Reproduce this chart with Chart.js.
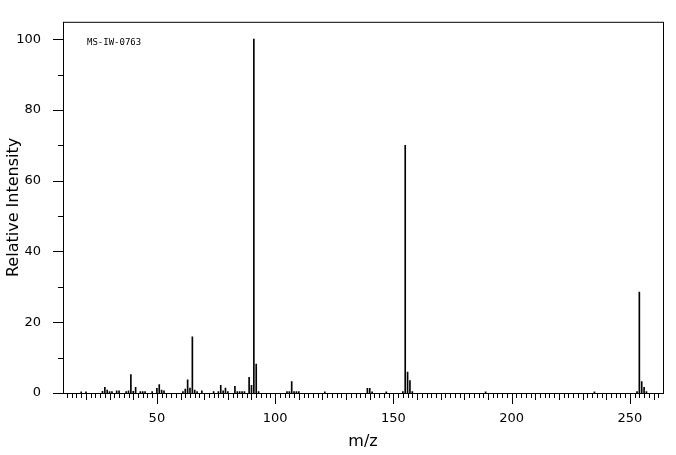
<!DOCTYPE html>
<html>
<head>
<script src="https://cdn.jsdelivr.net/npm/chart.js@4"></script>
<style>body{margin:0;background:#fff}</style>
</head>
<body>
<canvas id="c" width="676" height="455" style="width:676px;height:455px"></canvas>
<script>
// peaks
const mz = [18, 20, 27, 28, 29, 30, 31, 33, 34, 37, 38, 39, 40, 41, 43, 44, 45, 48, 50, 51, 52, 53,
  61, 62, 63, 64, 65, 66, 67, 69, 74, 76, 77, 78, 79, 80, 83, 84, 85, 86, 87, 89, 90, 91, 92, 93,
  105, 106, 107, 108, 109, 110, 121, 139, 140, 141, 147, 154, 155, 156, 157, 158, 189, 235, 253, 254, 255, 256, 257];
const intensity = [0.3, 0.3, 0.5, 1.6, 0.8, 0.4, 0.4, 0.6, 0.6, 0.4, 0.6, 5.2, 0.5, 1.6, 0.4, 0.4, 0.4, 0.4, 1.3, 2.4, 0.8, 0.6,
  0.4, 1.1, 3.7, 1.4, 15.9, 0.8, 0.4, 0.6, 0.4, 0.4, 2.2, 0.6, 1.4, 0.4, 1.9, 0.4, 0.4, 0.4, 0.4, 4.4, 2.2, 100, 8.2, 0.4,
  0.4, 0.4, 3.2, 0.4, 0.4, 0.4, 0.3, 1.3, 1.3, 0.3, 0.3, 0.4, 70, 5.9, 3.5, 0.4, 0.3, 0.3, 0.4, 28.5, 3.2, 1.6, 0.4];
const xTicks = [50, 100, 150, 200, 250];
const yTicks = [0, 20, 40, 60, 80, 100];
const sampleId = "MS-IW-0763";

const font = "'DejaVu Sans', sans-serif";

const frame = {
  id: "frame",
  afterDraw(chart) {
    const ctx = chart.ctx, a = chart.chartArea;
    const x = chart.scales.x, y = chart.scales.y;
    ctx.save();
    ctx.strokeStyle = "#000";
    ctx.lineWidth = 1;
    ctx.strokeRect(a.left + 0.5, a.top + 0.5, a.right - a.left, a.bottom - a.top);
    ctx.beginPath();
    // x tick marks: every 2, longer every 10, longest every 50
    for (let v = 12; v <= 262; v += 2) {
      const px = Math.round(x.getPixelForValue(v)) + 0.5;
      const len = v % 50 === 0 ? 11 : (v % 10 === 0 ? 7 : 5);
      ctx.moveTo(px, a.bottom);
      ctx.lineTo(px, a.bottom + len);
    }
    // y tick marks every 10, longer every 20
    for (let v = 0; v <= 100; v += 10) {
      const py = Math.round(y.getPixelForValue(v)) + 0.5;
      const len = v % 20 === 0 ? 10 : 5;
      ctx.moveTo(a.left, py);
      ctx.lineTo(a.left - len, py);
    }
    ctx.stroke();
    ctx.fillStyle = "#000";
    ctx.font = "9px 'DejaVu Sans Mono', monospace";
    ctx.fillText(sampleId, 87, 45);
    ctx.restore();
  }
};

new Chart(document.getElementById("c"), {
  type: "bar",
  data: {
    datasets: [{
      data: mz.map((m, i) => ({ x: m, y: intensity[i] })),
      backgroundColor: "#000",
      barThickness: 1
    }]
  },
  options: {
    responsive: false,
    animation: false,
    layout: { padding: { top: 0, right: 13, left: 0, bottom: 0 } },
    plugins: { legend: { display: false }, tooltip: { enabled: false } },
    scales: {
      x: {
        type: "linear",
        offset: false,
        bounds: "ticks",
        min: 10.3,
        max: 264,
        grid: { display: false, offset: false },
        border: { display: false },
        afterBuildTicks: s => { s.ticks = xTicks.map(v => ({ value: v })); },
        ticks: { color: "#000", font: { family: font, size: 13 }, padding: 10, maxRotation: 0 },
        title: { display: true, text: "m/z", color: "#000", font: { family: font, size: 16 }, padding: { top: 4 } },
        afterFit: s => { s.height = 62; }
      },
      y: {
        min: 0,
        max: 104.9,
        grid: { display: false },
        border: { display: false },
        afterBuildTicks: s => { s.ticks = yTicks.map(v => ({ value: v })); },
        ticks: { color: "#000", font: { family: font, size: 13 }, padding: 14 },
        title: { display: true, text: "Relative Intensity", color: "#000", font: { family: font, size: 16 }, padding: { bottom: 2 } },
        afterFit: s => { s.width = 63; }
      }
    }
  },
  plugins: [frame]
});
</script>
</body>
</html>
